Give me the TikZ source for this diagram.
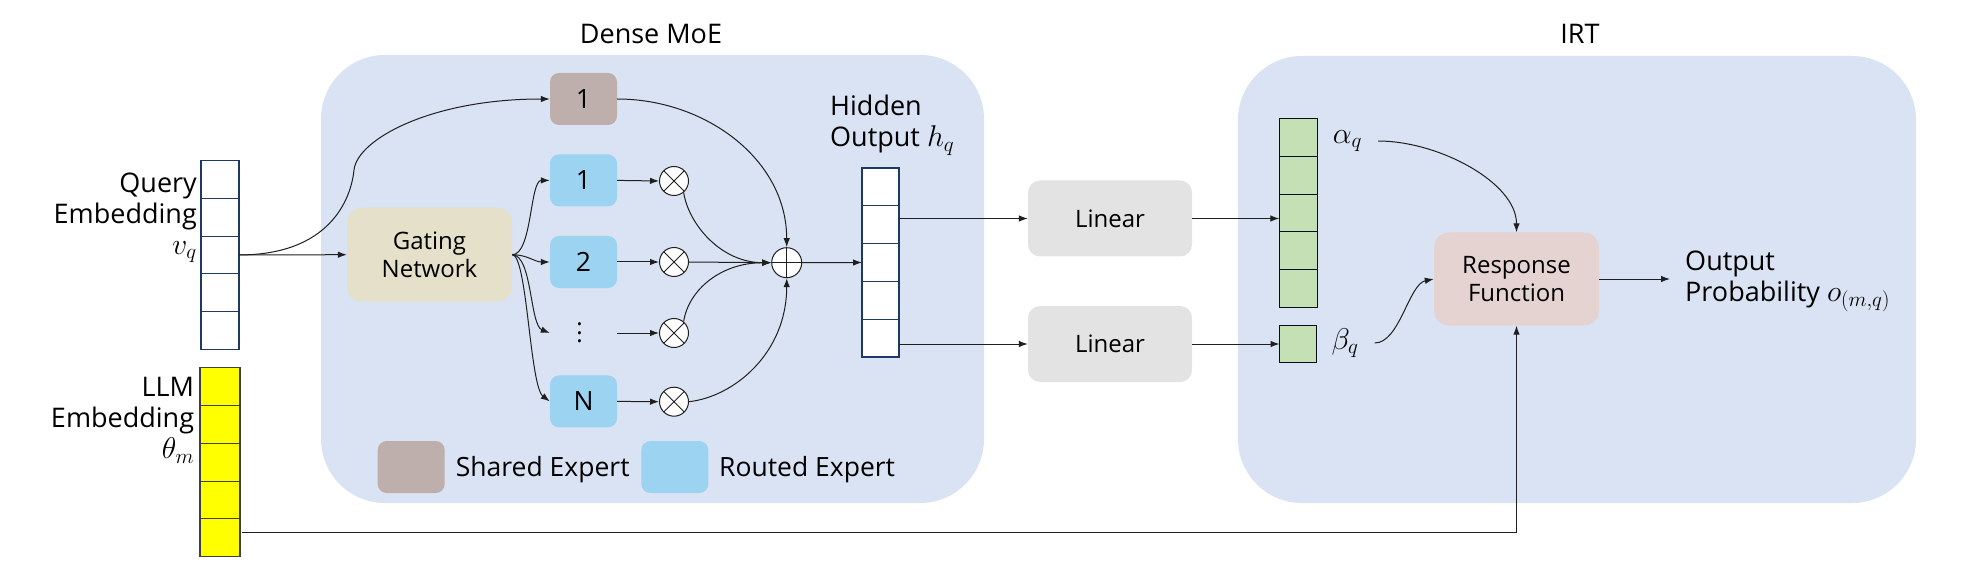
\RequirePackage{fix-cm}
\documentclass[tikz,border=0pt]{standalone}
\usepackage{fontspec}
\setmainfont{Open Sans}
\usetikzlibrary{arrows.meta,calc}
\definecolor{panelc}{HTML}{DAE3F3}
\definecolor{sharedc}{HTML}{BFAFAC}
\definecolor{routedc}{HTML}{9CD3F0}
\definecolor{gatec}{HTML}{E5E0C9}
\definecolor{linc}{HTML}{E3E3E3}
\definecolor{respc}{HTML}{E5D3D2}
\definecolor{grnc}{HTML}{C5E0B4}
\definecolor{navyc}{HTML}{1F3864}
\definecolor{ylwc}{HTML}{FFFF00}
\newcommand\fbig{\fontsize{27}{31}\selectfont}
\newcommand\fmid{\fontsize{24}{28.5}\selectfont}
\newcommand\fleg{\fontsize{26.5}{29}\selectfont}
\newcommand\mth[1]{{\fontsize{30}{31}\selectfont$#1$}}
\begin{document}
\begin{tikzpicture}[x=1pt,y=-1pt,
  arr/.style={-{Latex[length=9pt,width=6.5pt]},line width=1pt,draw=black!88},
  panel/.style={fill=panelc,rounded corners=64pt,inner sep=0pt},
  cell/.style={draw=navyc,line width=1.1pt,minimum width=38pt,minimum height=37.7pt,inner sep=0pt,outer sep=0pt},
  expert/.style={rounded corners=9pt,minimum width=67pt,minimum height=52pt,inner sep=0pt,font=\fleg},
  box/.style={rounded corners=14pt,inner sep=0pt,align=center,font=\fmid},
  otimesn/.style={circle,draw=black!88,line width=1pt,fill=white,minimum size=29pt,inner sep=0pt,
    path picture={\draw[black!88,line width=0.9pt] (path picture bounding box.north west) -- (path picture bounding box.south east)
      (path picture bounding box.north east) -- (path picture bounding box.south west);}},
  oplusn/.style={circle,draw=black!88,line width=1pt,fill=white,minimum size=30pt,inner sep=0pt,
    path picture={\draw[black!88,line width=0.9pt] (path picture bounding box.north) -- (path picture bounding box.south)
      (path picture bounding box.east) -- (path picture bounding box.west);}},
  lbl/.style={inner sep=0pt,font=\fbig}
]
\useasboundingbox (0,0) rectangle (1961,569);
\fill[white] (0,0) rectangle (1961,569);

% panels
\node[panel,minimum width=663pt,minimum height=448pt] (moe) at (652.5,279) {};
\node[panel,minimum width=678pt,minimum height=447pt] (irt) at (1577,279.5) {};
\node[lbl,anchor=base] (moet) at (651,44) {Dense MoE};
\node[lbl,anchor=base] (irtt) at (1580,44) {IRT};

% query embedding
\foreach \i in {1,...,5} \node[cell,fill=white] (q\i) at (220,{179.55+37.7*(\i-1)}) {};
\node[lbl,align=right,anchor=north east] (qlab) at (197,172.6) {Query\\Embedding\\\mth{v_q}};
% LLM embedding
\foreach \i in {1,...,5} \node[cell,fill=ylwc,draw=black!75,minimum width=40pt,minimum height=37.8pt] (l\i) at (220,{386.6+37.8*(\i-1)}) {};
\node[lbl,align=right,anchor=north east] (llab) at (194.3,377.4) {LLM\\Embedding\\\mth{\theta_m}};

% MoE internals
\node[box,fill=gatec,minimum width=165pt,minimum height=94pt,rounded corners=15pt] (gate) at (429.5,254.7) {Gating\\Network};
\node[expert,fill=sharedc] (sh) at (583.5,99) {1};
\node[expert,fill=routedc] (r1) at (583.5,180.4) {1};
\node[expert,fill=routedc] (r2) at (583.5,262) {2};
\node[inner sep=0pt,minimum width=75pt,align=center,font=\fontsize{24}{8.5}\selectfont] (rd) at (579.5,333) {.\\.\\.};
\node[expert,fill=routedc] (rN) at (583.5,401.4) {N};
\node[otimesn] (o1) at (674,181) {};
\node[otimesn] (o2) at (674,262) {};
\node[otimesn] (o3) at (674,333) {};
\node[otimesn] (o4) at (674,401.7) {};
\node[oplusn] (plus) at (786.7,262.7) {};
\coordinate (sk) at (354,170);

% legend
\node[expert,fill=sharedc] (lg1) at (411.2,467) {};
\node[lbl,font=\fleg,anchor=base west] (lg1t) at (455.7,476.7) {Shared Expert};
\node[expert,fill=routedc] (lg2) at (674.8,467) {};
\node[lbl,font=\fleg,anchor=base west] (lg2t) at (719,476.7) {Routed Expert};

% hidden output
\foreach \i in {1,...,5} \node[cell,fill=white,minimum width=37pt,minimum height=37.8pt] (h\i) at (880.5,{186.9+37.8*(\i-1)}) {};
\node[lbl,align=left,anchor=north west] (hlab) at (830,95.2) {Hidden\\Output \mth{h_q}};

% linear
\node[box,fill=linc,minimum width=164pt,minimum height=76pt,rounded corners=12pt] (lin1) at (1110,218.5) {Linear};
\node[box,fill=linc,minimum width=164pt,minimum height=76pt,rounded corners=12pt] (lin2) at (1110,344) {Linear};

% IRT
\foreach \i in {1,...,5} \node[cell,fill=grnc,draw=black!75!navyc] (a\i) at (1298.3,{137.55+37.7*(\i-1)}) {};
\node[cell,fill=grnc,draw=black!75!navyc,minimum width=37pt,minimum height=37pt] (be) at (1298,344.2) {};
\node[lbl] (al) at (1347.5,141) {\mth{\alpha_q}};
\node[lbl] (bl) at (1345,343) {\mth{\beta_q}};
\node[box,fill=respc,minimum width=165pt,minimum height=93pt,rounded corners=15pt] (resp) at (1516.5,279) {Response\\Function};
\node[lbl,align=left,anchor=north west,inner xsep=15pt] (outl) at (1670,250.3) {Output\\Probability \mth{o_{(m,q)}}};

% connectors
\draw[arr] (q3.east) -- (gate.west);
\draw[arr] (q3.east) .. controls +(90,0) and +(-3,30) .. (sk) .. controls +(3,-30) and +(-120,0) .. (sh.west);
\draw[arr] (gate.east) .. controls +(20,0) and +(-20,0) .. (r1.west);
\draw[arr] (gate.east) .. controls +(15,0) and +(-15,0) .. (r2.west);
\draw[arr] (gate.east) .. controls +(20,0) and +(-20,-8) .. ([xshift=8pt]rd.west);
\draw[arr] (gate.east) .. controls +(15,0) and +(-20,-15) .. (rN.west);
\draw[arr] (r1.east) -- (o1.west);
\draw[arr] (r2.east) -- (o2.west);
\draw[arr] (rd.east) -- (o3.west);
\draw[arr] (rN.east) -- (o4.west);
\draw[arr] (sh.east) .. controls +(88,0) and +(0,-88) .. (plus.north);
\draw[arr] (o1.-50) .. controls +(5,32) and +(-50,0) .. (plus.west);
\draw[arr] (o2.east) -- (plus.west);
\draw[arr] (o3.50) .. controls +(5,-32) and +(-50,0) .. (plus.west);
\draw[arr] (o4.east) .. controls +(45,-5) and +(0,75) .. (plus.south);
\draw[arr] (plus.east) -- (h3.west);
\draw[arr] (h2.east |- lin1.west) -- (lin1.west);
\draw[arr] (h5.east |- lin2.west) -- (lin2.west);
\draw[arr] (lin1.east) -- (lin1.east -| a3.west);
\draw[arr] (lin2.east) -- (lin2.east -| be.west);
\draw[arr] ([xshift=16pt]al.east) .. controls +(60,0) and +(0,-50) .. (resp.north);
\draw[arr] ([xshift=16pt]bl.east) .. controls +(25,0) and +(-25,5) .. (resp.west);
\draw[arr] ([xshift=2pt,yshift=5pt]l5.east) -| (resp.south);
\draw[arr] (resp.east) -- (resp.east -| outl.west);
\end{tikzpicture}
\end{document}
